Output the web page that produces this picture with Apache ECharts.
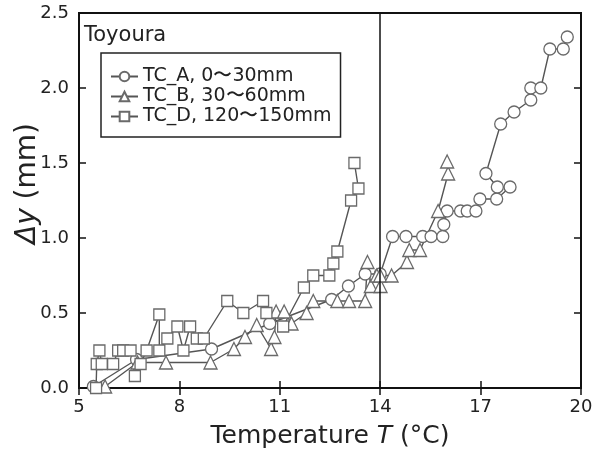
<!DOCTYPE html>
<html><head><meta charset="utf-8">
<script src="https://cdn.jsdelivr.net/npm/echarts@6/dist/echarts.min.js"></script>
<style>html,body{margin:0;padding:0;background:#fff}#c{width:606px;height:450px}</style>
</head><body><div id="c"></div>
<script>
const seriesNames = ['TC_A, 0〜30mm', 'TC_B, 30〜60mm', 'TC_D, 120〜150mm'];
const xTicks = [5, 8, 11, 14, 17, 20];
const yTicks = [0, 0.5, 1.0, 1.5, 2.0, 2.5];
const refLineT = 14;

const tcA_T  = [5.43,6.72,8.96,10.7,12.55,13.05,13.55,14.0,14.37,14.77,15.27,15.52,15.87,15.9,16.0,16.4,16.6,16.86,16.98,17.48,17.88,17.5,17.16,17.6,18.0,18.5,18.5,18.8,19.07,19.47,19.59];
const tcA_dy = [0.01,0.19,0.26,0.43,0.59,0.68,0.76,0.76,1.01,1.01,1.01,1.01,1.01,1.09,1.18,1.18,1.18,1.18,1.26,1.26,1.34,1.34,1.43,1.76,1.84,1.92,2.0,2.0,2.26,2.26,2.34];

const tcB_T  = [5.78,6.75,7.6,8.93,9.63,9.96,10.31,10.74,10.84,10.89,11.13,11.35,11.8,12.0,12.72,13.07,13.55,13.62,13.72,13.9,14.01,14.0,14.34,14.8,14.87,15.19,15.73,16.03,16.0];
const tcB_dy = [0.01,0.17,0.17,0.17,0.26,0.34,0.42,0.26,0.34,0.51,0.51,0.43,0.5,0.58,0.58,0.58,0.58,0.84,0.68,0.75,0.68,0.75,0.75,0.84,0.92,0.92,1.18,1.43,1.51];

const tcD_T  = [5.51,5.53,5.61,5.68,6.02,6.17,6.32,6.54,6.67,6.84,7.02,7.4,7.4,7.64,7.94,8.12,8.32,8.52,8.73,9.43,9.91,10.5,10.6,11.1,11.72,12.0,12.48,12.6,12.72,13.13,13.35,13.23];
const tcD_dy = [0.0,0.16,0.25,0.16,0.16,0.25,0.25,0.25,0.08,0.16,0.25,0.49,0.25,0.33,0.41,0.25,0.41,0.33,0.33,0.58,0.5,0.58,0.5,0.41,0.67,0.75,0.75,0.83,0.91,1.25,1.33,1.5];

const zip = (a, b) => a.map((v, i) => [v, b[i]]);
const FONT = '"DejaVu Sans", "Liberation Sans", sans-serif';
const TXT = '#222';

const mk = (name, sym, size, T, dy, extra) => Object.assign({
  name, type: 'line', symbol: sym, symbolSize: size, showSymbol: true,
  data: zip(T, dy), xAxisIndex: 0, yAxisIndex: 0,
  lineStyle: { color: '#555', width: 1.4 },
  itemStyle: { color: '#fff', borderColor: '#6a6a6a', borderWidth: 1.3 },
  emphasis: { disabled: true }, animation: false, z: 3
}, extra || {});

const tickCommon = { show: true, inside: true, length: 7, lineStyle: { color: '#111', width: 1.5 } };
const lineCommon = { show: true, lineStyle: { color: '#111', width: 2 } };

const chart = echarts.init(document.getElementById('c'), null, { renderer: 'canvas' });
chart.setOption({
  animation: false,
  backgroundColor: '#fff',
  title: { text: 'Toyoura', left: 84, top: 25, padding: 0, textStyle: { fontFamily: FONT, fontSize: 21, fontWeight: 'normal', color: TXT } },
  legend: {
    left: 101, top: 53, orient: 'vertical',
    borderColor: '#222', borderWidth: 1.5, padding: [14, 9, 11, 9],
    itemWidth: 27, itemHeight: 12, itemGap: 1,
    textStyle: { fontFamily: FONT, fontSize: 19, color: TXT, lineHeight: 19 },
    data: seriesNames
  },
  grid: { left: 79, right: 25, top: 13, bottom: 62, outerBoundsMode: 'none', containLabel: false, show: true, borderColor: '#111', borderWidth: 2, backgroundColor: 'transparent' },
  xAxis: [{
    type: 'value', min: 5, max: 20, position: 'bottom',
    axisLine: lineCommon,
    axisTick: Object.assign({ customValues: xTicks }, tickCommon),
    axisLabel: { customValues: xTicks, margin: 10, fontFamily: FONT, fontSize: 18, color: TXT },
    splitLine: { show: false },
    name: '{n|Temperature }{i|T}{n| (°C)}', nameLocation: 'middle', nameGap: 36,
    nameTextStyle: { rich: { n: { fontFamily: FONT, fontSize: 25, color: TXT }, i: { fontFamily: FONT, fontSize: 25, fontStyle: 'italic', color: TXT } } }
  }, {
    type: 'value', min: 5, max: 20, position: 'top',
    axisLine: lineCommon,
    axisTick: Object.assign({ customValues: xTicks }, tickCommon),
    axisLabel: { show: false }, splitLine: { show: false }
  }],
  yAxis: [{
    type: 'value', min: 0, max: 2.5, position: 'left',
    axisLine: lineCommon,
    axisTick: Object.assign({ customValues: yTicks }, tickCommon),
    axisLabel: { customValues: yTicks, margin: 10, fontFamily: FONT, fontSize: 18, color: TXT, formatter: v => v.toFixed(1) },
    splitLine: { show: false },
    name: '{s|}{i|Δy}{n| (mm)}', nameLocation: 'middle', nameGap: 37, nameRotate: 90, nameMoveOverlap: false,
    nameTextStyle: { rich: {
      s: { width: 34 },
      n: { fontFamily: FONT, fontSize: 28, color: TXT },
      i: { fontFamily: FONT, fontSize: 28, fontStyle: 'italic', color: TXT } } }
  }, {
    type: 'value', min: 0, max: 2.5, position: 'right',
    axisLine: lineCommon,
    axisTick: Object.assign({ customValues: yTicks }, tickCommon),
    axisLabel: { show: false }, splitLine: { show: false }
  }],
  series: [
    mk(seriesNames[0], 'circle', 12, tcA_T, tcA_dy, {
      markLine: { silent: true, symbol: 'none', label: { show: false }, lineStyle: { color: '#111', type: 'solid', width: 1.5 }, data: [{ xAxis: refLineT }] }
    }),
    mk(seriesNames[1], 'triangle', 13, tcB_T, tcB_dy),
    mk(seriesNames[2], 'rect', 11, tcD_T, tcD_dy)
  ]
});
</script>
</body></html>
